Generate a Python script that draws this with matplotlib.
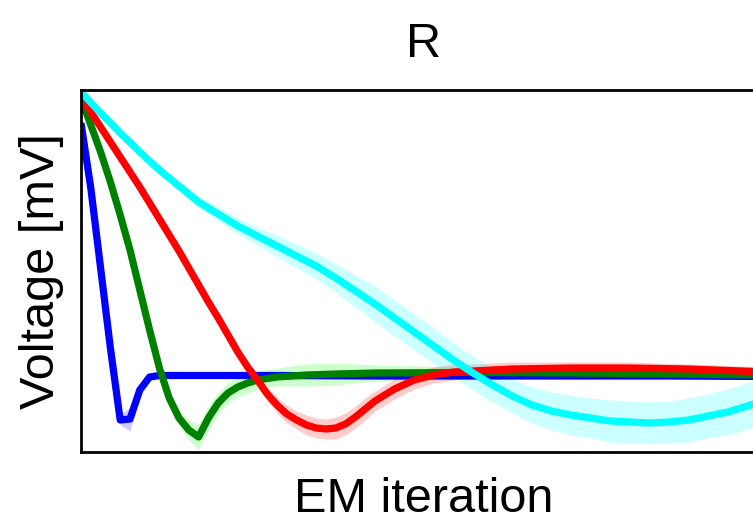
import numpy as np
import matplotlib
matplotlib.use("Agg")
import matplotlib.pyplot as plt

plt.rcParams['font.family'] = ['Liberation Sans', 'DejaVu Sans']

# EM iterations and mean voltage traces (arbitrary offset, mV) with spread
blue_it = [0, 1, 2, 3, 4, 5, 6, 7, 8, 10, 15, 20, 30, 40, 50, 60, 70]
blue_v = [32.9, 26.4, 18.4, 10.4, 3.2, 3.3, 6.2, 7.5, 7.65, 7.65, 7.65, 7.65, 7.6, 7.6, 7.6, 7.6, 7.55]
blue_sd = [0.2, 0.2, 0.2, 0.2, 0.5, 1.2, 0.6, 0.3, 0.15, 0.15, 0.15, 0.15, 0.15, 0.15, 0.15, 0.15, 0.15]

green_it = [0, 1, 2, 3, 4, 5, 6, 7, 8, 9, 10, 11, 12, 13, 14, 15, 16, 17, 18,
            20, 23, 26, 30, 40, 50, 60, 70]
green_v = [35.4, 32.7, 30.0, 27.0, 23.7, 20.2, 16.2, 12.2, 8.4, 5.4, 3.4, 2.2, 1.5,
           3.4, 4.9, 5.9, 6.5, 6.9, 7.2, 7.5, 7.7, 7.8, 7.9, 7.95, 7.9, 7.8, 7.7]
green_sd = [0.2, 0.2, 0.2, 0.2, 0.2, 0.2, 0.2, 0.3, 0.4, 0.5, 0.7, 1.0, 1.3,
            1.2, 1.1, 1.0, 1.0, 1.0, 0.9, 0.9, 1.1, 1.1, 0.8, 0.5, 0.4, 0.3, 0.3]

red_it = [0, 1, 2, 3, 4, 5, 6, 7, 8, 9, 10, 11, 12, 13, 14, 15, 16, 17, 18, 19,
          20, 21, 22, 23, 24, 25, 26, 27, 28, 29, 30, 32, 34, 36, 38, 40, 44, 50,
          56, 62, 70]
red_v = [35.5, 34.0, 32.5, 31.0, 29.5, 28.0, 26.5, 24.9, 23.3, 21.7, 20.1, 18.4,
         16.7, 15.0, 13.4, 11.7, 10.0, 8.5, 7.2, 5.8, 4.7, 3.8, 3.2, 2.7, 2.4, 2.3,
         2.4, 2.8, 3.5, 4.3, 5.1, 6.3, 7.2, 7.7, 8.0, 8.1, 8.3, 8.4, 8.4, 8.3, 8.0]
red_sd = [0.2, 0.3, 0.3, 0.3, 0.3, 0.3, 0.3, 0.3, 0.3, 0.3, 0.3, 0.4, 0.4, 0.4,
          0.4, 0.5, 0.5, 0.6, 0.6, 0.7, 0.8, 0.9, 0.9, 1.0, 1.0, 1.0, 1.1, 1.1,
          1.1, 1.1, 1.0, 1.0, 0.9, 0.8, 0.8, 0.7, 0.7, 0.6, 0.6, 0.5, 0.5]

cyan_it = [0, 2, 4, 6, 8, 10, 12, 14, 16, 18, 20, 22, 24, 26, 28, 30, 32, 34, 36,
           38, 40, 42, 44, 46, 48, 50, 52, 54, 56, 58, 60, 62, 64, 66, 68, 70]
cyan_v = [36.0, 33.9, 31.9, 30.0, 28.2, 26.6, 25.0, 23.8, 22.6, 21.6, 20.6, 19.6,
          18.6, 17.4, 16.1, 14.8, 13.4, 12.0, 10.6, 9.2, 7.9, 6.7, 5.6, 4.7, 4.1,
          3.7, 3.4, 3.1, 3.0, 2.9, 3.0, 3.2, 3.6, 4.0, 4.6, 5.2]
cyan_sd = [0.2, 0.3, 0.4, 0.4, 0.5, 0.5, 0.6, 0.7, 0.8, 0.9, 1.1, 1.2, 1.3, 1.4,
           1.6, 1.8, 1.8, 1.8, 1.8, 1.7, 1.7, 1.7, 1.7, 1.8, 1.9, 2.0, 2.0, 2.1,
           2.1, 2.1, 2.1, 2.2, 2.2, 2.3, 2.3, 2.4]

series = [
    (blue_it, blue_v, blue_sd, "blue", "blue"),
    (green_it, green_v, green_sd, "green", "lime"),
    (red_it, red_v, red_sd, "red", "red"),
    (cyan_it, cyan_v, cyan_sd, "cyan", "cyan"),
]

fig = plt.figure(figsize=(7.53, 5.23), dpi=100)
ax = fig.add_axes([81 / 753, 71 / 523, 686 / 753, 362 / 523])

for it, v, sd, c, fc in series:
    it = np.array(it)
    v = np.array(v)
    sd = np.array(sd)
    ax.fill_between(it, v - sd, v + sd, color=fc, alpha=0.2, linewidth=0)
    ax.plot(it, v, color=c, linewidth=5.2, solid_capstyle="butt")

ax.set_xlim(0, 70)
ax.set_ylim(0, 36.2)
ax.set_xticks([])
ax.set_yticks([])
ax.spines['right'].set_visible(False)
for s in ['left', 'top', 'bottom']:
    ax.spines[s].set_linewidth(2)
    ax.spines[s].set_color("k")

ax.set_title("R", fontsize=35, pad=24)
ax.set_xlabel("EM iteration", fontsize=35, labelpad=18)
ax.set_ylabel("Voltage [mV]", fontsize=35, labelpad=12)

fig.savefig("out.png", dpi=100)
